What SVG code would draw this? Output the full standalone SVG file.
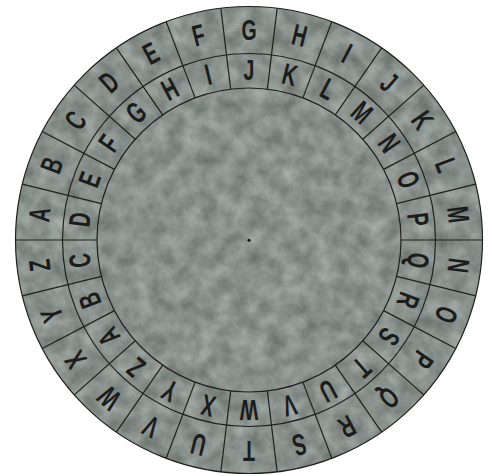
<svg xmlns="http://www.w3.org/2000/svg" xmlns:xlink="http://www.w3.org/1999/xlink" width="493" height="476" viewBox="0 0 493 476">
<style>
.o{font-family:"Liberation Sans","DejaVu Sans",sans-serif;font-weight:bold;font-size:30px;fill:#1b1c1b;text-anchor:middle}
.ln{stroke:#1e201f;stroke-width:1.2;fill:none}
</style>
<defs>
<filter id="tex" x="0" y="0" width="100%" height="100%" color-interpolation-filters="sRGB">
<feTurbulence type="fractalNoise" baseFrequency="0.06" numOctaves="5" seed="7" result="n"/>
<feColorMatrix in="n" type="matrix" values="0.3 0 0 0 0.385  0.3 0 0 0 0.415  0.3 0 0 0 0.4  0 0 0 0 1" result="c"/>
<feComposite in="c" in2="SourceGraphic" operator="in"/>
</filter>
<line id="div" x1="249" y1="6.5" x2="249" y2="88" class="ln"/>
</defs>
<rect width="493" height="476" fill="#ffffff"/>
<g id="disc">
<circle cx="249" cy="240" r="233.5" fill="#838c87" filter="url(#tex)"/>
<circle cx="249" cy="240" r="233.5" class="ln" stroke-width="1.6"/>
<circle cx="249" cy="240" r="186.5" class="ln"/>
<circle cx="249" cy="240" r="152" class="ln"/>
<circle cx="249" cy="240.3" r="1.5" fill="#111"/>
</g>
<g id="dividers">
<use href="#div" transform="rotate(6.923 249 240)"/>
<use href="#div" transform="rotate(20.769 249 240)"/>
<use href="#div" transform="rotate(34.615 249 240)"/>
<use href="#div" transform="rotate(48.462 249 240)"/>
<use href="#div" transform="rotate(62.308 249 240)"/>
<use href="#div" transform="rotate(76.154 249 240)"/>
<use href="#div" transform="rotate(90 249 240)"/>
<use href="#div" transform="rotate(103.846 249 240)"/>
<use href="#div" transform="rotate(117.692 249 240)"/>
<use href="#div" transform="rotate(131.538 249 240)"/>
<use href="#div" transform="rotate(145.385 249 240)"/>
<use href="#div" transform="rotate(159.231 249 240)"/>
<use href="#div" transform="rotate(173.077 249 240)"/>
<use href="#div" transform="rotate(186.923 249 240)"/>
<use href="#div" transform="rotate(200.769 249 240)"/>
<use href="#div" transform="rotate(214.615 249 240)"/>
<use href="#div" transform="rotate(228.462 249 240)"/>
<use href="#div" transform="rotate(242.308 249 240)"/>
<use href="#div" transform="rotate(256.154 249 240)"/>
<use href="#div" transform="rotate(270 249 240)"/>
<use href="#div" transform="rotate(283.846 249 240)"/>
<use href="#div" transform="rotate(297.692 249 240)"/>
<use href="#div" transform="rotate(311.538 249 240)"/>
<use href="#div" transform="rotate(325.385 249 240)"/>
<use href="#div" transform="rotate(339.231 249 240)"/>
<use href="#div" transform="rotate(353.077 249 240)"/>
</g>
<g id="outer-ring">
<text class="o" transform="rotate(-83.077 249 240) translate(249 39.5) scale(0.65 1)">A</text>
<text class="o" transform="rotate(-69.231 249 240) translate(249 39.5) scale(0.65 1)">B</text>
<text class="o" transform="rotate(-55.385 249 240) translate(249 39.5) scale(0.65 1)">C</text>
<text class="o" transform="rotate(-41.538 249 240) translate(249 39.5) scale(0.65 1)">D</text>
<text class="o" transform="rotate(-27.692 249 240) translate(249 39.5) scale(0.65 1)">E</text>
<text class="o" transform="rotate(-13.846 249 240) translate(249 39.5) scale(0.65 1)">F</text>
<text class="o" transform="rotate(0 249 240) translate(249 39.5) scale(0.65 1)">G</text>
<text class="o" transform="rotate(13.846 249 240) translate(249 39.5) scale(0.65 1)">H</text>
<text class="o" transform="rotate(27.692 249 240) translate(249 39.5) scale(0.65 1)">I</text>
<text class="o" transform="rotate(41.538 249 240) translate(249 39.5) scale(0.65 1)">J</text>
<text class="o" transform="rotate(55.385 249 240) translate(249 39.5) scale(0.65 1)">K</text>
<text class="o" transform="rotate(69.231 249 240) translate(249 39.5) scale(0.65 1)">L</text>
<text class="o" transform="rotate(83.077 249 240) translate(249 39.5) scale(0.65 1)">M</text>
<text class="o" transform="rotate(96.923 249 240) translate(249 39.5) scale(0.65 1)">N</text>
<text class="o" transform="rotate(110.769 249 240) translate(249 39.5) scale(0.65 1)">O</text>
<text class="o" transform="rotate(124.615 249 240) translate(249 39.5) scale(0.65 1)">P</text>
<text class="o" transform="rotate(138.462 249 240) translate(249 39.5) scale(0.65 1)">Q</text>
<text class="o" transform="rotate(152.308 249 240) translate(249 39.5) scale(0.65 1)">R</text>
<text class="o" transform="rotate(166.154 249 240) translate(249 39.5) scale(0.65 1)">S</text>
<text class="o" transform="rotate(180 249 240) translate(249 39.5) scale(0.65 1)">T</text>
<text class="o" transform="rotate(193.846 249 240) translate(249 39.5) scale(0.65 1)">U</text>
<text class="o" transform="rotate(207.692 249 240) translate(249 39.5) scale(0.65 1)">V</text>
<text class="o" transform="rotate(221.538 249 240) translate(249 39.5) scale(0.65 1)">W</text>
<text class="o" transform="rotate(235.385 249 240) translate(249 39.5) scale(0.65 1)">X</text>
<text class="o" transform="rotate(249.231 249 240) translate(249 39.5) scale(0.65 1)">Y</text>
<text class="o" transform="rotate(263.077 249 240) translate(249 39.5) scale(0.65 1)">Z</text>
</g>
<g id="inner-ring">
<text class="o" transform="rotate(-124.615 249 240) translate(249 80) scale(0.65 1)">A</text>
<text class="o" transform="rotate(-110.769 249 240) translate(249 80) scale(0.65 1)">B</text>
<text class="o" transform="rotate(-96.923 249 240) translate(249 80) scale(0.65 1)">C</text>
<text class="o" transform="rotate(-83.077 249 240) translate(249 80) scale(0.65 1)">D</text>
<text class="o" transform="rotate(-69.231 249 240) translate(249 80) scale(0.65 1)">E</text>
<text class="o" transform="rotate(-55.385 249 240) translate(249 80) scale(0.65 1)">F</text>
<text class="o" transform="rotate(-41.538 249 240) translate(249 80) scale(0.65 1)">G</text>
<text class="o" transform="rotate(-27.692 249 240) translate(249 80) scale(0.65 1)">H</text>
<text class="o" transform="rotate(-13.846 249 240) translate(249 80) scale(0.65 1)">I</text>
<text class="o" transform="rotate(0 249 240) translate(249 80) scale(0.65 1)">J</text>
<text class="o" transform="rotate(13.846 249 240) translate(249 80) scale(0.65 1)">K</text>
<text class="o" transform="rotate(27.692 249 240) translate(249 80) scale(0.65 1)">L</text>
<text class="o" transform="rotate(41.538 249 240) translate(249 80) scale(0.65 1)">M</text>
<text class="o" transform="rotate(55.385 249 240) translate(249 80) scale(0.65 1)">N</text>
<text class="o" transform="rotate(69.231 249 240) translate(249 80) scale(0.65 1)">O</text>
<text class="o" transform="rotate(83.077 249 240) translate(249 80) scale(0.65 1)">P</text>
<text class="o" transform="rotate(96.923 249 240) translate(249 80) scale(0.65 1)">Q</text>
<text class="o" transform="rotate(110.769 249 240) translate(249 80) scale(0.65 1)">R</text>
<text class="o" transform="rotate(124.615 249 240) translate(249 80) scale(0.65 1)">S</text>
<text class="o" transform="rotate(138.462 249 240) translate(249 80) scale(0.65 1)">T</text>
<text class="o" transform="rotate(152.308 249 240) translate(249 80) scale(0.65 1)">U</text>
<text class="o" transform="rotate(166.154 249 240) translate(249 80) scale(0.65 1)">V</text>
<text class="o" transform="rotate(180 249 240) translate(249 80) scale(0.65 1)">W</text>
<text class="o" transform="rotate(193.846 249 240) translate(249 80) scale(0.65 1)">X</text>
<text class="o" transform="rotate(207.692 249 240) translate(249 80) scale(0.65 1)">Y</text>
<text class="o" transform="rotate(221.538 249 240) translate(249 80) scale(0.65 1)">Z</text>
</g>
</svg>
